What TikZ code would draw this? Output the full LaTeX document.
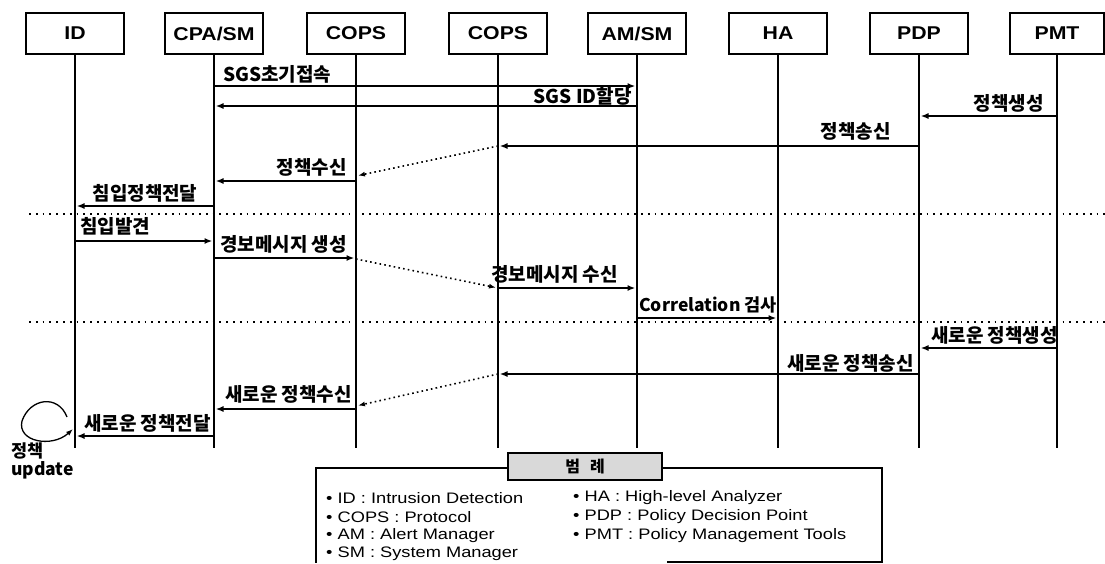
\documentclass[tikz,border=0pt]{standalone}
\usepackage{fontspec}
\setmainfont{Liberation Sans}
\newfontfamily\kr{Noto Sans CJK KR}
\newfontfamily\hdfont{Liberation Sans}[FakeStretch=1.15]
\newfontfamily\legfont{Liberation Sans}[FakeStretch=1.2]
\usetikzlibrary{arrows.meta}
\begin{document}
\begin{tikzpicture}[x=1pt,y=-1pt,
  actor/.style={draw,line width=1.6pt,minimum width=98pt,minimum height=41pt,inner sep=0pt,font=\hdfont\fontsize{18.5}{20}\selectfont\bfseries},
  life/.style={line width=2.6pt},
  msg/.style={line width=1.8pt,-{Latex[length=8pt,width=6pt]},shorten >=1.5pt},
  dmsg/.style={line width=1.6pt,dash pattern=on 1.6pt off 3.2pt,-{Latex[length=7pt,width=5pt]},shorten >=2pt},
  sepline/.style={line width=1.8pt,dash pattern=on 1.8pt off 5pt},
  lbl/.style={inner sep=0pt,font=\kr\fontsize{19}{21}\selectfont\bfseries},
  lblsm/.style={inner sep=0pt,font=\kr\fontsize{17.5}{20}\selectfont\bfseries},
  leg/.style={inner sep=0pt,anchor=west,font=\legfont\fontsize{15.2}{17}\selectfont}]
\useasboundingbox (0,0) rectangle (1105,563);
\fill[white] (0,0) rectangle (1105,563);

% actors
\node[actor] (id) at (75,33.5) {ID};
\node[actor] (cpa) at (214,33.5) {CPA/SM};
\node[actor] (cops1) at (356,33.5) {COPS};
\node[actor] (cops2) at (498,33.5) {COPS};
\node[actor] (am) at (637,33.5) {AM/SM};
\node[actor] (ha) at (778,33.5) {HA};
\node[actor] (pdp) at (919,33.5) {PDP};
\node[actor, minimum width=94pt] (pmt) at (1057,33.5) {PMT};

% lifelines
\coordinate (bot) at (0,448);
\foreach \n in {id,cpa,cops1,cops2,am,ha,pdp,pmt}
  \draw[life] (\n.south) -- (\n |- bot);

% message levels
\coordinate (m1) at (0,86);
\coordinate (m2) at (0,106);
\coordinate (m3) at (0,116);
\coordinate (m4) at (0,146);
\coordinate (d1) at (0,176);
\coordinate (m5) at (0,181);
\coordinate (m6) at (0,206);
\coordinate (m7) at (0,241);
\coordinate (m8) at (0,258);
\coordinate (d2) at (0,259);
\coordinate (m9) at (0,288);
\coordinate (m10) at (0,318);
\coordinate (m11) at (0,348);
\coordinate (m12) at (0,374);
\coordinate (d3) at (0,406);
\coordinate (m13) at (0,409);
\coordinate (m14) at (0,436);

% separators
\coordinate (s1l) at (29,214);
\coordinate (s1r) at (1105,214);
\coordinate (s2l) at (29,322);
\coordinate (s2r) at (1105,322);
\draw[sepline] (s1l) -- (s1r);
\draw[sepline] (s2l) -- (s2r);

% messages
\draw[msg] (cpa |- m1) -- (am |- m1);
\node[lbl,anchor=west] (t1) at (223,74) {SGS초기접속};
\draw[msg] (am |- m2) -- (cpa |- m2);
\node[lbl,anchor=east] (t2) at (632,96) {SGS ID할당};
\draw[msg] (pmt |- m3) -- (pdp |- m3);
\node[lbl,anchor=east] (t3) at (1044,103) {정책생성};
\draw[msg] (pdp |- m4) -- (cops2 |- m4);
\node[lbl,anchor=east] (t4) at (891,131) {정책송신};
\draw[dmsg] (cops2 |- m4) -- (cops1 |- d1);
\draw[msg] (cops1 |- m5) -- (cpa |- m5);
\node[lbl,anchor=east] (t5) at (347,167) {정책수신};
\draw[msg] (cpa |- m6) -- (id |- m6);
\node[lbl] (t6) at (145,193) {침입정책전달};

\draw[msg] (id |- m7) -- (cpa |- m7);
\node[lbl,anchor=west] (t7) at (80,226) {침입발견};
\draw[msg] (cpa |- m8) -- (cops1 |- m8);
\node[lbl,anchor=west] (t8) at (220,244) {경보메시지 생성};
\draw[dmsg] (cops1 |- d2) -- (cops2 |- m9);
\draw[msg] (cops2 |- m9) -- (am |- m9);
\node[lbl,anchor=west] (t9) at (491,274) {경보메시지 수신};
\draw[msg] (am |- m10) -- (ha |- m10);
\node[lblsm,anchor=west] (t10) at (639,305) {Correlation 검사};

\draw[msg] (pmt |- m11) -- (pdp |- m11);
\node[lbl,anchor=east] (t11) at (1058,335) {새로운 정책생성};
\draw[msg] (pdp |- m12) -- (cops2 |- m12);
\node[lbl,anchor=east] (t12) at (914,363) {새로운 정책송신};
\draw[dmsg] (cops2 |- m12) -- (cops1 |- d3);
\draw[msg] (cops1 |- m13) -- (cpa |- m13);
\node[lbl,anchor=east] (t13) at (352,394) {새로운 정책수신};
\draw[msg] (cpa |- m14) -- (id |- m14);
\node[lbl,anchor=east] (t14) at (211,423) {새로운 정책전달};

% self loop
\coordinate (lpA) at (67,417);
\coordinate (lpB) at (73,429);
\draw[line width=1.3pt,-{Latex[length=7pt,width=5pt]}] (lpA) .. controls (58,394) and (30,398) .. (22,421) .. controls (17,442) and (52,448) .. (lpB);
\node[lblsm,anchor=west] (u1) at (11,451) {정책};
\node[lblsm,anchor=west] (u2) at (11,470) {update};

% legend
\draw[line width=1.5pt] (667,562) -- (882,562) -- (882,468) -- (316,468) -- (316,563);
\node[draw,line width=2pt,fill=gray!30,minimum width=154pt,minimum height=27pt,inner sep=0pt,font=\kr\bfseries\fontsize{16}{18}\selectfont] (legt) at (585,466.5) {범\hspace{10pt}례};
\node[leg] (l1) at (326,498) {• ID : Intrusion Detection};
\node[leg] (l2) at (326,517) {• COPS : Protocol};
\node[leg] (l3) at (326,536) {• AM : Alert Manager};
\node[leg] (l4) at (326,554) {• SM : System Manager};
\node[leg] (l5) at (573,498) {• HA : High-level Analyzer};
\node[leg] (l6) at (573,517) {• PDP : Policy Decision Point};
\node[leg] (l7) at (573,536) {• PMT : Policy Management Tools};
\end{tikzpicture}
\end{document}
